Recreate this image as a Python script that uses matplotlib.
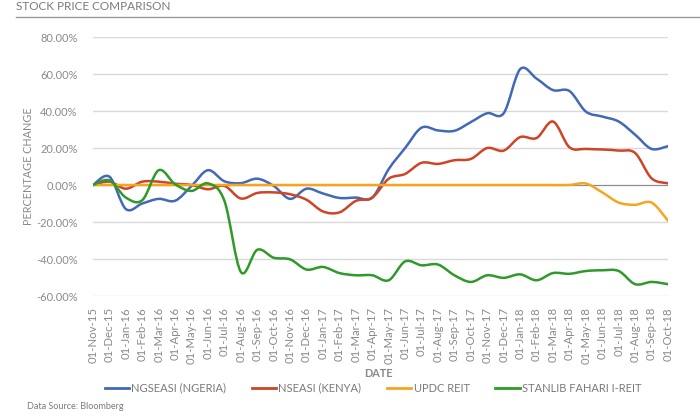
import matplotlib
matplotlib.use("Agg")
import matplotlib.pyplot as plt
import numpy as np
import pandas as pd
from matplotlib.path import Path
from matplotlib.patches import PathPatch
from matplotlib.lines import Line2D
from matplotlib.ticker import FuncFormatter

plt.rcParams['font.family'] = ['Lato', 'DejaVu Sans']

# monthly observations, 01-Nov-15 .. 01-Oct-18
dates = pd.date_range('2015-11-01', periods=36, freq='MS')
date_labels = [d.strftime('%d-%b-%y') for d in dates]

ngseasi = [0, 4.5, -13, -10, -7.5, -8.5, -0.5, 8, 2, 1, 3.4, -0.5,
           -7.5, -2, -4.6, -7, -6.8, -6.8, 8.6, 20, 31, 29.5, 29.3, 34,
           38.8, 38.8, 62.6, 57.5, 51.3, 50.8, 39.7, 37, 34.3, 27.2, 19.5, 21]
nseasi = [0, 1.8, -2, 1.8, 1.8, 0.7, 0, -2.3, -0.5, -7.3, -4.3, -4,
          -5, -8, -14.3, -14.8, -8.6, -6.8, 3.4, 6, 12, 11.4, 13.4, 14.1,
          20, 18.6, 25.9, 25.4, 34.3, 20.4, 19.5, 19.2, 18.6, 17.3, 3.6, 0.9]
updc = [0] * 30 + [0.8, -4, -9.5, -10.7, -9.5, -19.3]
stanlib = [0, 2.5, -6.8, -8.2, 8, 0.4, -3.2, 0.9, -8.6, -47, -35, -39.3,
           -40.2, -45.7, -44.3, -47.6, -48.8, -48.8, -51.5, -41.3, -43.4, -43, -48.8, -52.4,
           -48.8, -50.2, -48.3, -51.5, -47.6, -48, -46.5, -46.1, -46.5, -53.6, -52.4, -53.6]

series_names = ['NGSEASI (NGERIA)', 'NSEASI (KENYA)', 'UPDC REIT', 'STANLIB FAHARI I-REIT']
series_values = [ngseasi, nseasi, updc, stanlib]
series_colors = ['#4169b8', '#cf4426', '#f6a51f', '#2f9a2a']


def smooth_path(x, y):
    # Excel-style smoothed line: Catmull-Rom segments as cubic Beziers
    pts = np.column_stack([x, y]).astype(float)
    n = len(pts)
    verts = [pts[0]]
    codes = [Path.MOVETO]
    for i in range(n - 1):
        p0 = pts[max(i - 1, 0)]
        p1 = pts[i]
        p2 = pts[i + 1]
        p3 = pts[min(i + 2, n - 1)]
        c1 = p1 + (p2 - p0) / 6.0
        c2 = p2 - (p3 - p1) / 6.0
        verts += [c1, c2, p2]
        codes += [Path.CURVE4] * 3
    return Path(verts, codes)


fig = plt.figure(figsize=(7, 4.19), dpi=100)
ax = fig.add_axes([93 / 700, 1 - 296 / 419, 575 / 700, 259 / 419])

x = np.arange(len(dates))
for name, vals, col in zip(series_names, series_values, series_colors):
    patch = PathPatch(smooth_path(x, vals), facecolor='none', edgecolor=col,
                      lw=1.8, capstyle='round', joinstyle='round', zorder=3)
    ax.add_patch(patch)

ax.set_xlim(0, len(dates) - 1)
ax.set_ylim(-60, 80)
ax.set_yticks(np.arange(-60, 81, 20))
ax.yaxis.set_major_formatter(FuncFormatter(lambda v, p: f'{v:.2f}%'))
ax.set_xticks(x)
ax.set_xticklabels(date_labels, rotation=90, fontsize=8.2, color='#8a8a8a')
ax.tick_params(axis='y', labelsize=8, labelcolor='#8a8a8a', length=0, pad=11)
ax.tick_params(axis='x', length=0, pad=8)

ax.grid(axis='y', color='#d9d9d9', lw=1)
ax.axhline(0, color='#8c8c8c', lw=0.8, zorder=2)
ax.set_axisbelow(True)
for s in ax.spines.values():
    s.set_visible(False)

ax.set_ylabel('PERCENTAGE CHANGE', fontsize=7.8, color='#8a8a8a')
ax.yaxis.set_label_coords((34 - 93) / 575, 0.5)
fig.text(378 / 700, 1 - 373 / 419, 'DATE', fontsize=7.8, color='#8a8a8a',
         fontweight='bold', ha='center', va='center')

# title with rule underneath
fig.text(16 / 700, 1 - 6 / 419, 'STOCK PRICE COMPARISON', fontsize=8.5,
         color='#7a7a7a', ha='left', va='center')
fig.add_artist(Line2D([16 / 700, 1], [1 - 17 / 419, 1 - 17 / 419],
                      color='#9a9a9a', lw=1, transform=fig.transFigure))

handles = [Line2D([], [], color=c, lw=2) for c in series_colors]
leg = fig.legend(handles, series_names, loc='center', ncol=4,
                 bbox_to_anchor=(373 / 700, 1 - 388 / 419), frameon=False,
                 fontsize=8, handlelength=2.2, handletextpad=0.2, columnspacing=2.3)
for t in leg.get_texts():
    t.set_color('#7a7a7a')

fig.text(27 / 700, 1 - 406 / 419, 'Data Source: Bloomberg', fontsize=6.5,
         color='#7a7a7a', ha='left', va='center')

fig.savefig('out.png', dpi=100)
